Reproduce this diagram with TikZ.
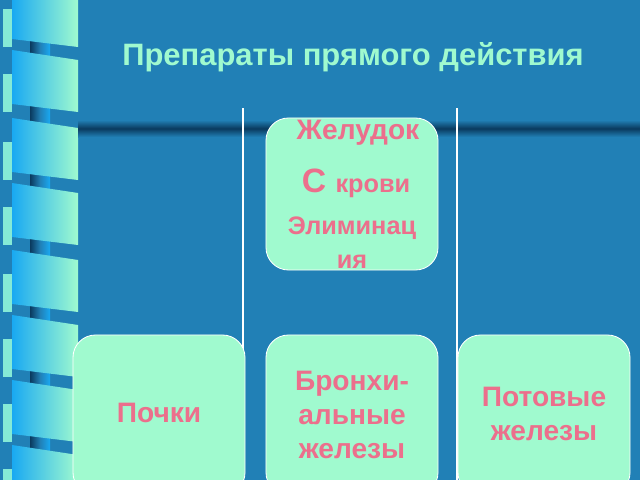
\documentclass[tikz,border=0pt]{standalone}
\usepackage{fontspec}
\setmainfont{Liberation Sans}
\usepackage{tikz}
\definecolor{bgblue}{HTML}{2180B6}
\definecolor{mint}{HTML}{A0FACF}
\definecolor{rosy}{HTML}{EC6F8C}
\definecolor{poledark}{HTML}{0A3A5E}
\definecolor{skyblue}{HTML}{19A9F2}
\tikzset{
  organbox/.style={draw=white, line width=0.6pt, fill=mint, rounded corners=16pt, minimum width=4.3cm, inner sep=0pt},
  organtext/.style={text=rosy, font=\bfseries\fontsize{20}{24}\selectfont, align=center}
}
\begin{document}
\begin{tikzpicture}[x=0.025cm, y=-0.025cm]
				%Background
				\fill[bgblue] (0, 0) rectangle (640, 480);
				\useasboundingbox (0, 0) rectangle (640, 480);
				
				%Pole and ribbons
				\shade[left color=poledark, right color=skyblue, middle color=bgblue] (30, 0) rectangle (50, 480);
				\foreach \y in {-15, 50, 118, 183, 250, 315, 380, 445} {
					\shade[left color=skyblue, right color=mint] (12, \y) -- (78, \y+10) -- (78, \y+62) -- (12, \y+54) -- cycle;
					\fill[mint!80!skyblue] (3, \y+24) rectangle (12, \y+62);
				}
				
				%Horizontal bar
				\shade[top color=bgblue, bottom color=bgblue, middle color=poledark] (78, 120) rectangle (640, 137);
				
				%Title
				\node[text=mint, font=\bfseries\fontsize{22}{26}\selectfont] (title) at (353, 57) {Препараты прямого действия};
				
				%Separators
				\coordinate (lt) at (243, 108);
				\coordinate (lb) at (243, 480);
				\coordinate (rt) at (457, 108);
				\coordinate (rb) at (457, 480);
				\draw[white, line width=1pt] (lt) -- (lb);
				\draw[white, line width=1pt] (rt) -- (rb);
				
				%Top box
				\node[organbox, minimum height=3.8cm] (stomach) at (352, 194) {};
				\node[organtext] (s1) at (358, 133) {Желудок};
				\node[organtext] (s2) at (356, 183) {\fontsize{24}{28}\selectfont С \fontsize{18}{22}\selectfont крови};
				\node[organtext, font=\bfseries\fontsize{18}{22}\selectfont] (s3) at (352, 228) {Элиминац};
				\node[organtext, font=\bfseries\fontsize{18}{22}\selectfont] (s4) at (352, 262) {ия};
				
				%Bottom boxes
				\node[organbox, minimum height=4cm] (kidney) at (159, 415) {};
				\node[organtext] (k1) at (159, 413) {Почки};
				\node[organbox, minimum height=4cm] (bronch) at (352, 415) {};
				\node[organtext] (b1) at (352, 415) {Бронхи-\\альные\\ железы};
				\node[organbox, minimum height=4cm] (sweat) at (544, 415) {};
				\node[organtext] (w1) at (544, 414) {Потовые\\железы};
			\end{tikzpicture}
\end{document}
